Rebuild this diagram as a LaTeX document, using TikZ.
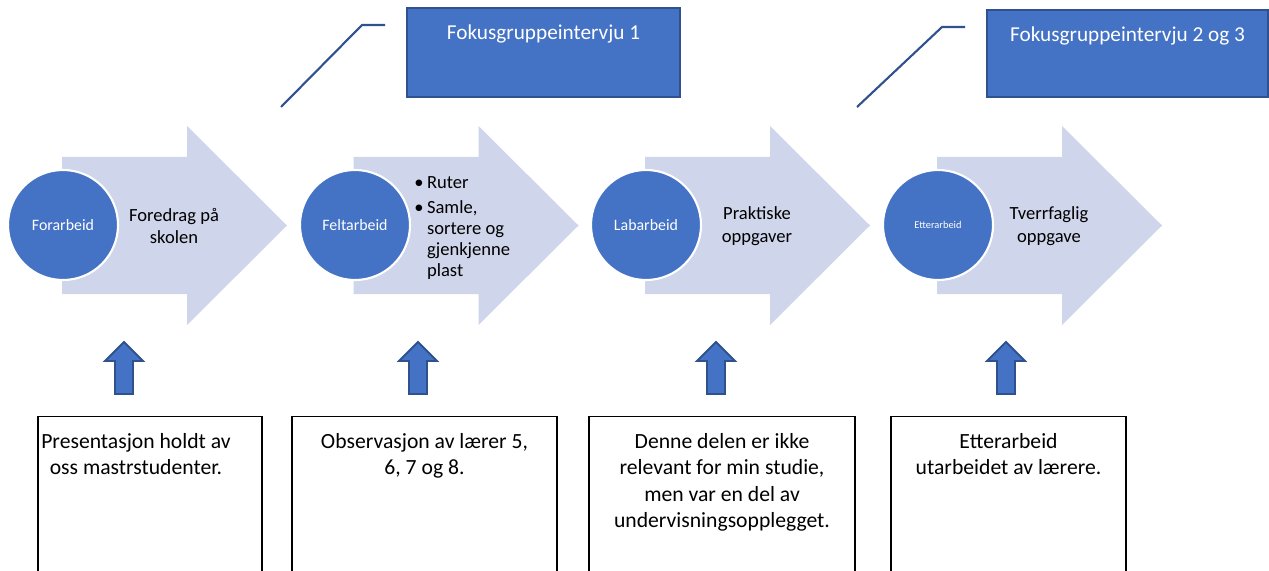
\documentclass[tikz,border=0pt]{standalone}
\usepackage{fontspec}
\setmainfont{Carlito}
\usepackage{tikz}
\definecolor{phaseblue}{RGB}{68,114,196}
\definecolor{edgeblue}{RGB}{47,82,143}
\definecolor{chevronfill}{RGB}{207,213,234}

\begin{document}
\begin{tikzpicture}[x=0.025cm, y=-0.025cm,
  chevron/.style={fill=chevronfill},
  phase/.style={circle, fill=phaseblue, draw=white, line width=1.5pt, minimum size=2.75cm,
    inner sep=0pt, text=white, font=\fontsize{11.3}{13.5}\selectfont},
  steptext/.style={align=center, font=\fontsize{13.2}{16}\selectfont, inner sep=0pt},
  fokusbox/.style={rectangle, fill=phaseblue, draw=edgeblue, line width=1.4pt, inner sep=0pt},
  fokustext/.style={text=white, font=\fontsize{15.1}{18}\selectfont, inner sep=0pt},
  leader/.style={draw=edgeblue, line width=1.5pt},
  notebox/.style={rectangle, draw=black, line width=0.8pt, fill=white, anchor=north,
    minimum height=5cm, inner sep=0pt},
  notetext/.style={align=center, anchor=north, font=\fontsize{15.4}{18.8}\selectfont, inner sep=0pt},
  uparrow/.style={fill=phaseblue, draw=edgeblue, line width=1.4pt}]
  \useasboundingbox (0,0) rectangle (1269,571);
  \clip (0,0) rectangle (1269,571);

  \foreach \x in {62,353.5,645,937}
    \path[chevron] (\x,157) -- ++(125,0) -- ++(0,-31) -- ++(100,99.5) -- ++(-100,99.5)
      -- ++(0,-31) -- ++(-125,0) -- cycle;

  \node[phase] (forarbeid) at (63,225) {Forarbeid};
  \node[phase] (feltarbeid) at (355,225) {Feltarbeid};
  \node[phase] (labarbeid) at (646,225) {Labarbeid};
  \node[phase, font=\fontsize{7.4}{9}\selectfont] (etterarbeid) at (938,225) {Etterarbeid};

  \node[steptext] (foredrag) at (174,226) {Foredrag på\\skolen};
  \node[steptext, align=left, anchor=north west, font=\fontsize{13.2}{15}\selectfont] (ruter) at (414,176)
    {\makebox[0.32cm][l]{\textbullet}Ruter\\[3pt]
     \makebox[0.32cm][l]{\textbullet}Samle,\\
     \hspace*{0.32cm}sortere og\\
     \hspace*{0.32cm}gjenkjenne\\
     \hspace*{0.32cm}plast};
  \node[steptext] (praktiske) at (757,226) {Praktiske\\oppgaver};
  \node[steptext] (tverrfaglig) at (1049,226) {Tverrfaglig\\oppgave};

  \node[fokusbox, minimum width=6.825cm, minimum height=2.225cm] (fokus1) at (543.5,52.5) {};
  \node[fokustext] (fokus1text) at (543.5,34) {Fokusgruppeintervju 1};
  \node[fokusbox, minimum width=7.025cm, minimum height=2.175cm] (fokus2) at (1127.5,53.5) {};
  \node[fokustext] (fokus2text) at (1127.5,36) {Fokusgruppeintervju 2 og 3};

  \coordinate (lead1a) at (281,107);
  \coordinate (lead1b) at (362,25);
  \coordinate (lead1c) at (385,25);
  \draw[leader] (lead1a) -- (lead1b) -- (lead1c);
  \coordinate (lead2a) at (857,107);
  \coordinate (lead2b) at (942,27);
  \coordinate (lead2c) at (965,27);
  \draw[leader] (lead2a) -- (lead2b) -- (lead2c);

  \foreach \c in {124,418,716,1006}
    \draw[uparrow] (\c,342) -- ++(19,19) -- ++(-10,0) -- ++(0,33) -- ++(-18,0)
      -- ++(0,-33) -- ++(-10,0) -- cycle;

  \node[notebox, minimum width=5.6cm] (note1) at (150,416) {};
  \node[notetext] (note1text) at (136,433) {Presentasjon holdt av\\oss mastrstudenter.};
  \node[notebox, minimum width=6.625cm] (note2) at (424.5,416) {};
  \node[notetext] (note2text) at (424.5,433) {Observasjon av lærer 5,\\6, 7 og 8.};
  \node[notebox, minimum width=6.65cm] (note3) at (722,416) {};
  \node[notetext] (note3text) at (722,433)
    {Denne delen er ikke\\relevant for min studie,\\men var en del av\\undervisningsopplegget.};
  \node[notebox, minimum width=5.875cm] (note4) at (1008.5,416) {};
  \node[notetext] (note4text) at (1008.5,433) {Etterarbeid\\utarbeidet av lærere.};
\end{tikzpicture}
\end{document}
